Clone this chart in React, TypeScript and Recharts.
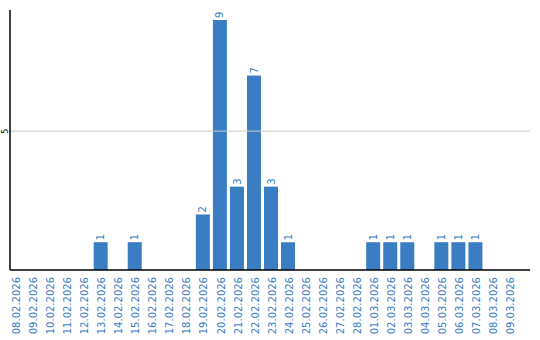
import { BarChart, Bar, XAxis, YAxis, ReferenceLine, LabelList } from "recharts";

const days = [
    "08.02.2026", "09.02.2026", "10.02.2026", "11.02.2026", "12.02.2026",
    "13.02.2026", "14.02.2026", "15.02.2026", "16.02.2026", "17.02.2026",
    "18.02.2026", "19.02.2026", "20.02.2026", "21.02.2026", "22.02.2026",
    "23.02.2026", "24.02.2026", "25.02.2026", "26.02.2026", "27.02.2026",
    "28.02.2026", "01.03.2026", "02.03.2026", "03.03.2026", "04.03.2026",
    "05.03.2026", "06.03.2026", "07.03.2026", "08.03.2026", "09.03.2026",
];
const counts = [
    0, 0, 0, 0, 0,
    1, 0, 1, 0, 0,
    0, 2, 9, 3, 7,
    3, 1, 0, 0, 0,
    0, 1, 1, 1, 0,
    1, 1, 1, 0, 0,
];
const yTicks = [5];

const BLUE = "#3a7dc2";
const FONT = "'DejaVu Sans', Verdana, sans-serif";

const chartData = days.map((d, i) => ({ day: d, count: counts[i] }));

const DayTick = ({ x, y, payload }: any) => (
    <text
        x={x}
        y={y + 7}
        dy="0.36em"
        transform={`rotate(-90, ${x}, ${y + 7})`}
        textAnchor="end"
        fill={BLUE}
        fontSize={10}
        fontFamily={FONT}
    >
        {payload.value}
    </text>
);

const CountTick = ({ x, y, payload }: any) => (
    <text
        x={x - 5}
        y={y}
        dy="0.36em"
        transform={`rotate(-90, ${x - 5}, ${y})`}
        textAnchor="middle"
        fill="#000"
        fontSize={8}
        fontFamily={FONT}
    >
        {payload.value}
    </text>
);

// bars sit slightly left inside their band
const ShiftedBar = (props: any) => {
    const { x, y, width, height } = props;
    if (!height || height <= 0) return null;
    return <rect x={x - 1.5} y={y} width={width} height={height} fill={BLUE} />;
};

const ValueLabel = (props: any) => {
    const { x, y, width, value } = props;
    if (!value) return null;
    const cx = x + width / 2 - 1.5;
    const cy = y - 2;
    return (
        <text
            x={cx}
            y={cy}
            dy="0.36em"
            transform={`rotate(-90, ${cx}, ${cy})`}
            textAnchor="start"
            fill={BLUE}
            fontSize={10}
            fontFamily={FONT}
        >
            {value}
        </text>
    );
};

export default function App() {
    return (
        <div style={{ position: "absolute", left: 0, top: 0, background: "#fff" }}>
            <BarChart
                width={540}
                height={340}
                data={chartData}
                margin={{ top: 10, right: 10, left: 0, bottom: 0 }}
                barCategoryGap={3}
            >
                <XAxis
                    dataKey="day"
                    interval={0}
                    height={70}
                    padding={{ left: -2, right: 11 }}
                    tick={<DayTick />}
                    tickLine={false}
                    tickSize={0}
                    tickMargin={0}
                    axisLine={{ stroke: "#000", strokeWidth: 1.5 }}
                />
                <YAxis
                    width={10}
                    domain={[0, 9.36]}
                    ticks={yTicks}
                    tick={<CountTick />}
                    tickLine={false}
                    tickSize={0}
                    tickMargin={0}
                    axisLine={{ stroke: "#000", strokeWidth: 1.5 }}
                    allowDataOverflow
                />
                <ReferenceLine y={5} stroke="#cccccc" />
                <Bar dataKey="count" barSize={14} shape={<ShiftedBar />} isAnimationActive={false}>
                    <LabelList dataKey="count" content={<ValueLabel />} />
                </Bar>
            </BarChart>
        </div>
    );
}
